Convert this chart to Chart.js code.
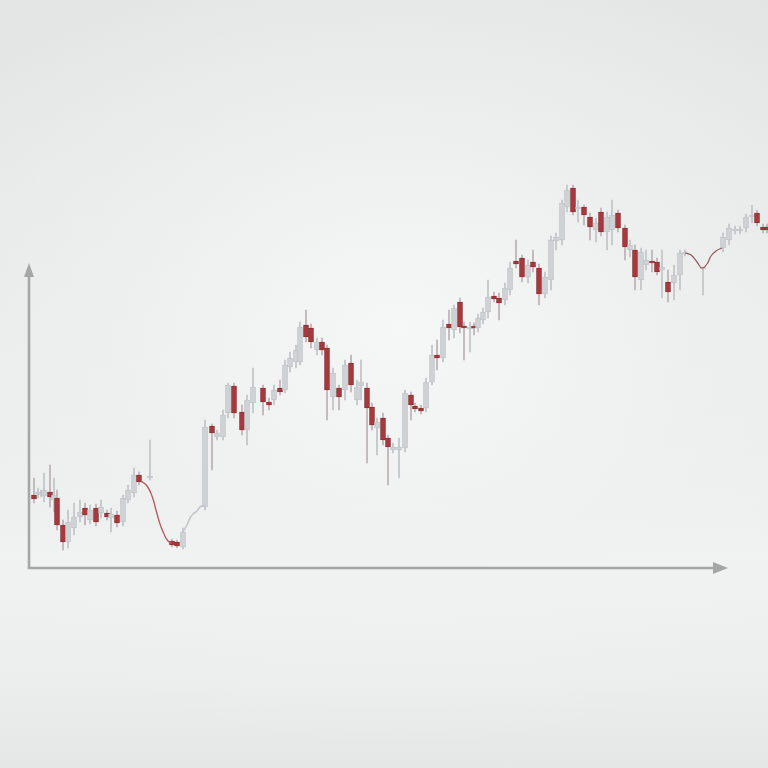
<!DOCTYPE html>
<html>
<head>
<meta charset="utf-8">
<script src="https://cdn.jsdelivr.net/npm/chart.js@4.4.1/dist/chart.umd.min.js"></script>
<style>
html,body{margin:0;padding:0;width:768px;height:768px;overflow:hidden;}
body{
  background:
    radial-gradient(ellipse 520px 420px at 400px 330px, rgba(246,247,247,0.95) 0%, rgba(240,241,241,0.6) 55%, rgba(232,234,234,0) 100%),
    linear-gradient(180deg,#e3e5e5 0%,#eaecec 45%,#eef0f0 68%,#f1f2f2 72%,#eceeee 88%,#e5e7e7 100%);
}
canvas{display:block;filter:blur(0.45px);}
</style>
</head>
<body>
<canvas id="c" width="768" height="768"></canvas>
<script>
// time index of each candle
const times = [5,9,12,15,21,25,28,34,39,45,51,56,61,67,72,78,82,88,94,99,105,110,121,143,148,154,176,183,188,194,199,205,213,218,224,234,240,245,251,256,261,267,271,277,282,288,293,298,304,310,316,322,328,332,338,343,348,354,359,364,370,376,382,386,392,397,403,408,414,420,425,431,435,441,445,449,454,459,465,470,476,481,487,493,499,504,510,516,522,527,533,538,544,549,555,561,567,572,578,583,589,596,601,606,612,617,623,628,633,639,645,651,656,674,694,700,706,711,717,723,728,734,738];
const opens = [73,74,73,72,76,68,70,43,26,40,51,60,48,60,55,55,50,53,46,68,75,93,90,27,26,21,61,142,131,131,155,182,156,138,165,180,166,168,180,178,201,206,206,243,240,218,226,220,171,180,178,205,168,182,180,161,140,150,130,118,118,120,173,162,160,160,186,213,210,244,238,266,242,239,242,240,248,256,272,270,268,278,307,310,291,306,300,274,288,327,328,361,380,359,361,351,338,356,336,338,355,340,318,318,288,303,307,306,298,286,285,293,314,299,320,328,337,337,340,351,355,341,341];
const closes = [69,76,75,78,71,73,43,26,46,51,56,53,58,46,61,51,54,45,70,78,93,86,92,23,22,36,141,135,135,153,183,155,138,168,181,166,163,178,176,203,210,218,241,231,226,226,218,178,195,171,203,183,181,186,160,143,146,128,121,121,121,175,163,159,157,186,213,210,241,240,260,241,240,241,240,250,256,271,269,265,280,300,304,291,303,301,274,291,328,331,365,378,356,361,353,341,345,336,351,353,340,321,323,291,316,308,305,296,301,276,293,315,316,301,331,340,339,339,351,353,345,338,338];
const highs = [90,80,78,95,103,90,78,48,58,65,68,65,63,64,68,58,60,57,73,83,100,96,128,29,28,40,148,144,138,158,185,185,163,173,200,183,170,183,188,208,216,223,246,258,244,230,230,223,200,183,208,213,188,208,185,165,150,155,133,125,130,178,176,165,163,190,223,228,248,258,263,270,246,246,245,254,260,288,276,275,285,306,328,313,308,318,304,296,332,335,368,383,383,368,363,355,350,360,356,368,358,343,328,323,320,318,318,310,318,298,303,318,318,301,335,344,342,342,354,363,358,344,344];
const lows = [65,70,71,66,61,56,38,18,20,33,46,43,44,42,50,48,36,41,42,65,71,83,88,21,20,19,58,98,128,128,150,150,133,123,155,153,158,163,173,175,196,200,203,226,220,213,213,148,158,158,168,176,163,168,105,138,113,123,83,115,90,116,148,156,154,156,183,198,206,228,230,235,208,216,233,236,244,250,266,248,263,273,300,286,285,296,263,270,278,318,323,356,353,346,343,328,326,332,318,323,336,308,311,278,278,298,296,293,270,266,268,278,312,273,316,323,334,334,336,345,342,335,335];

// connecting line segments drawn in place of candles
const fallTimes = [112,118,123,127,131,135,139,143];
const fallValues = [87,82,72,58,44,34,27,25];
const riseTimes = [154,158,161,164,168,171,176];
const riseValues = [36,43,50,54,57,61,63];
const dipTimes = [656,662,668,673,678,682,687,693];
const dipValues = [315,313,306,300,304,312,317,320];

const UP_BODY = '#ced2d5', UP_EDGE = '#bcc1c5', DOWN_BODY = '#a5393e', DOWN_EDGE = '#86292c';
const WICK = '#c6cacd', DOWN_WICK = '#c4babb';

const isDown = opens.map((o,i)=>closes[i] < o);
const wickData = times.map((t,i)=>({x:t, y:[lows[i], highs[i]]}));
const bodyData = times.map((t,i)=>{
  let lo = Math.min(opens[i],closes[i]), hi = Math.max(opens[i],closes[i]);
  return {x:t, y:[lo, hi]};
});
const pts = (ts,vs)=>ts.map((t,i)=>({x:t,y:vs[i]}));

const axisArrows = {
  id:'axisArrows',
  beforeDatasetsDraw(chart){
    const ctx = chart.ctx, xs = chart.scales.x, ys = chart.scales.y;
    const x0 = xs.getPixelForValue(0), y0 = ys.getPixelForValue(0);
    const yTip = ys.getPixelForValue(305), xTip = xs.getPixelForValue(699);
    ctx.save();
    ctx.strokeStyle = '#a4a6a8'; ctx.fillStyle = '#a4a6a8';
    ctx.lineWidth = 2.6; ctx.lineCap = 'butt';
    ctx.beginPath();
    ctx.moveTo(x0, yTip + 12); ctx.lineTo(x0, y0); ctx.lineTo(xTip - 13, y0);
    ctx.stroke();
    ctx.beginPath();
    ctx.moveTo(x0, yTip); ctx.lineTo(x0 - 5, yTip + 14); ctx.lineTo(x0 + 5, yTip + 14); ctx.closePath(); ctx.fill();
    ctx.beginPath();
    ctx.moveTo(xTip, y0); ctx.lineTo(xTip - 15, y0 - 6); ctx.lineTo(xTip - 15, y0 + 6); ctx.closePath(); ctx.fill();
    ctx.restore();
  }
};

new Chart(document.getElementById('c'), {
  data: {
    datasets: [
      {type:'bar', data: wickData, barThickness: 1.3, grouped:false,
       backgroundColor: isDown.map(d=>d?DOWN_WICK:WICK), borderWidth:0, order:3},
      {type:'bar', data: bodyData, barThickness: 5, grouped:false, minBarLength: 2,
       backgroundColor: isDown.map(d=>d?DOWN_BODY:UP_BODY),
       borderColor: isDown.map(d=>d?DOWN_EDGE:UP_EDGE), borderWidth:0.8, borderSkipped:false, order:2},
      {type:'line', data: pts(fallTimes,fallValues), borderColor:'#b5575a', borderWidth:1.3, pointRadius:0, tension:0.45, order:1},
      {type:'line', data: pts(riseTimes,riseValues), borderColor:'#c2c6ca', borderWidth:1.6, pointRadius:0, tension:0.3, order:1},
      {type:'line', data: pts(dipTimes,dipValues), borderColor:'#93585a', borderWidth:1.2, pointRadius:0, tension:0.45, order:1}
    ]
  },
  options: {
    responsive:false, animation:false, devicePixelRatio:1,
    layout:{padding:{left:29,right:0,top:0,bottom:200}},
    plugins:{legend:{display:false}, tooltip:{enabled:false}},
    scales:{
      x:{type:'linear', min:0, max:739, display:false, offset:false},
      y:{type:'linear', min:0, max:568, display:false}
    }
  },
  plugins:[axisArrows]
});
</script>
</body>
</html>
